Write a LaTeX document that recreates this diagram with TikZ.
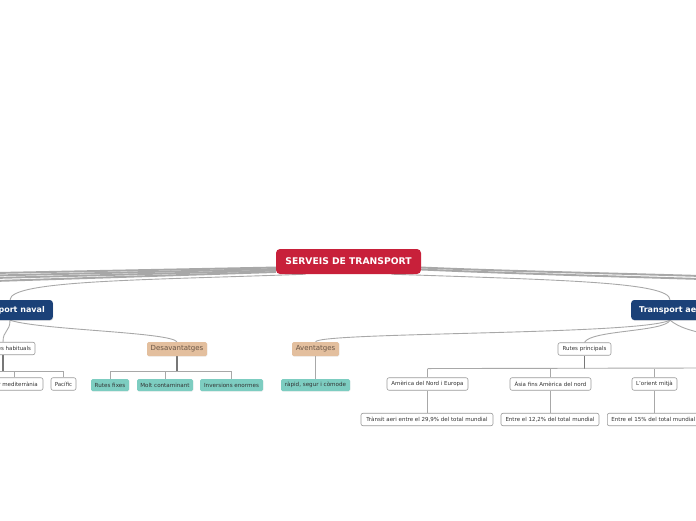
\documentclass[tikz,border=0pt]{standalone}
\usepackage{fontspec}
\setmainfont{DejaVu Sans}
\usetikzlibrary{positioning,shadows,backgrounds}

\definecolor{rootred}{HTML}{C8203A}
\definecolor{topicblue}{HTML}{1B4178}
\definecolor{tanfill}{HTML}{E3BF9E}
\definecolor{tantext}{HTML}{6A5646}
\definecolor{tealfill}{HTML}{7DCDC1}
\definecolor{linkgray}{HTML}{A8A8A8}
\definecolor{trunkgray}{HTML}{777777}
\definecolor{boxgray}{HTML}{9A9A9A}

\begin{document}
\begin{tikzpicture}[x=1pt,y=-1pt,
  rootbox/.style={fill=rootred, text=white, rounded corners=4pt, font=\fontsize{9.2}{10}\selectfont\bfseries, minimum width=145pt, minimum height=25pt, inner sep=0pt},
  topicbox/.style={fill=topicblue, text=white, rounded corners=3pt, font=\fontsize{8}{9}\selectfont\bfseries, minimum height=20pt, inner xsep=8pt, inner ysep=0pt, drop shadow={opacity=0.2,shadow xshift=0.6pt,shadow yshift=-0.8pt}},
  tanbox/.style={fill=tanfill, text=tantext, rounded corners=1.5pt, font=\fontsize{7}{8}\selectfont, minimum height=14pt, inner sep=0pt, drop shadow={opacity=0.15,shadow xshift=0.4pt,shadow yshift=-0.6pt}},
  tealbox/.style={fill=tealfill, text=black!80, rounded corners=1.5pt, font=\fontsize{5.6}{6.5}\selectfont, minimum height=12pt, inner sep=0pt, drop shadow={opacity=0.15,shadow xshift=0.4pt,shadow yshift=-0.6pt}},
  plainbox/.style={draw=boxgray, fill=white, text=black!80, rounded corners=2pt, font=\fontsize{5.5}{6.5}\selectfont, minimum height=12.5pt, inner xsep=3pt, inner ysep=0pt, line width=0.6pt},
  mainlink/.style={draw=linkgray, line width=1.9pt},
  sublink/.style={draw=linkgray, line width=0.9pt},
  trunk/.style={draw=trunkgray, line width=1.3pt},
]
  \useasboundingbox (0,0) rectangle (696,520);

  % central topic and the two visible main topics
  \node[rootbox] (root) at (348.5,261.5) {SERVEIS DE TRANSPORT};
  \node[topicbox, anchor=east] (naval) at (53,310) {Transport naval};
  \node[topicbox, anchor=west] (aeri) at (631,310) {Transport aeri};

  % transport naval
  \node[plainbox, text width=56pt, align=right, inner xsep=4pt] (habituals) at (3,348.5) {Rutes habituals};
  \node[tanbox, minimum width=60pt] (desav) at (177,349) {Desavantatges};
  \node[plainbox, minimum width=58pt] (mediterrania) at (14,384) {Mar mediterrània};
  \node[plainbox, minimum width=25pt] (pacific) at (63.5,384) {Pacífic};
  \node[tealbox, minimum width=38pt] (fixes) at (110,385) {Rutes fixes};
  \node[tealbox, minimum width=56pt] (contaminant) at (165,385) {Molt contaminant};
  \node[tealbox, minimum width=63pt] (inversions) at (231.5,385) {Inversions enormes};

  % transport aeri
  \node[tanbox, minimum width=47pt] (avant) at (315.5,349) {Aventatges};
  \node[tealbox, minimum width=69pt] (rapid) at (315.5,385) {ràpid, segur i còmode};
  \node[plainbox, minimum width=53pt] (principals) at (584.5,349) {Rutes principals};
  \node[plainbox, minimum width=81pt] (nordeuropa) at (427.5,384) {Amèrica del Nord i Europa};
  \node[plainbox, minimum width=81pt] (asia) at (550.5,384) {Àsia fins Amèrica del nord};
  \node[plainbox, minimum width=45pt] (orient) at (654.5,384) {L'orient mitjà};
  \node[plainbox, minimum width=132pt] (transit) at (427,419.5) {Trànsit aeri entre el 29,9\% del total mundial};
  \node[plainbox, minimum width=98pt] (entre12) at (550,419.5) {Entre el 12,2\% del total mundial};
  \node[plainbox, anchor=west, minimum width=92pt] (entre15) at (607,419.5) {Entre el 15\% del total mundial};

  % ends of the links that leave the picture
  \coordinate (west1) at (-5,273);
  \coordinate (west2) at (-5,275.5);
  \coordinate (west3) at (-5,278);
  \coordinate (west4) at (-5,281);
  \coordinate (east1) at (701,276);
  \coordinate (east2) at (701,279);
  \coordinate (aerimore) at (705,334);
  \coordinate (principalsmore) at (705,368);

  \begin{scope}[on background layer]
    \draw[mainlink] ([yshift=-6pt]root.west) -- (west1);
    \draw[mainlink] ([yshift=-7.5pt]root.west) -- (west2);
    \draw[mainlink] ([yshift=-9pt]root.west) -- (west3);
    \draw[mainlink] ([yshift=-10.5pt]root.west) -- (west4);
    \draw[mainlink] ([yshift=-6pt]root.east) .. controls (500,271) and (600,273) .. (east1);
    \draw[mainlink] ([yshift=-8pt]root.east) .. controls (500,273) and (600,276) .. (east2);
    \draw[sublink] ([xshift=-43pt]root.south) .. controls (150,280) and (10,280) .. (naval.north -| 10,0);
    \draw[sublink] ([xshift=43pt]root.south) .. controls (560,280) and (670,282) .. (aeri.north -| 670,0);

    % naval branches
    \draw[sublink] (naval.south -| 10,0) .. controls (10,332) and (3,330) .. (habituals.north);
    \draw[sublink] (naval.south -| 10,0) .. controls (40,330) and (170,332) .. (desav.north);
    \draw[trunk] (habituals.south) -- ++(0,16) coordinate (habbar);
    \draw[sublink] (-5,0 |- habbar) -- (pacific.north |- habbar);
    \foreach \c in {mediterrania,pacific}
      \draw[sublink] (\c.north) -- (\c.north |- habbar);
    \draw[trunk] (desav.south) -- ++(0,15) coordinate (desavbar);
    \draw[sublink] (fixes.north |- desavbar) -- (inversions.north |- desavbar);
    \foreach \c in {fixes,contaminant,inversions}
      \draw[sublink] (\c.north) -- (\c.north |- desavbar);

    % aeri branches
    \draw[sublink] (aeri.south -| 670,0) .. controls (640,335) and (320,332) .. (avant.north);
    \draw[sublink] (aeri.south -| 670,0) .. controls (665,332) and (590,330) .. (principals.north);
    \draw[sublink] (aeri.south -| 670,0) .. controls (680,328) and (690,330) .. (aerimore);
    \draw[sublink] (avant.south) -- (rapid.north);
    \draw[trunk] (principals.south) -- ++(0,13) coordinate (princbar);
    \draw[sublink] (nordeuropa.north |- princbar) -- (principalsmore);
    \foreach \c in {nordeuropa,asia,orient}
      \draw[sublink] (\c.north) -- (\c.north |- princbar);
    \draw[sublink] (nordeuropa.south) -- (nordeuropa.south |- transit.north);
    \draw[sublink] (asia.south) -- (asia.south |- entre12.north);
    \draw[sublink] (orient.south) -- (orient.south |- entre15.north);
  \end{scope}
\end{tikzpicture}
\end{document}
